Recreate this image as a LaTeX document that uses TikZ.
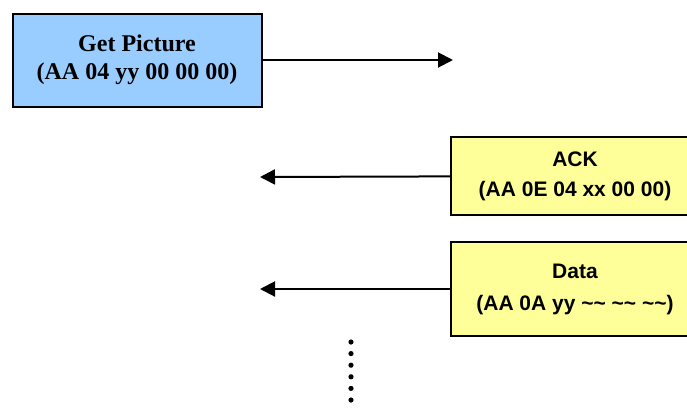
\documentclass[tikz,border=0pt]{standalone}
\usepackage{xcolor}
\usepackage{fontspec}
\setmainfont{Liberation Serif}
\usepackage{tikz}
\usetikzlibrary{arrows.meta,calc,positioning,shapes}
\newfontfamily\camfont{Liberation Sans}
\definecolor{hostblue}{HTML}{99CCFF}
\definecolor{camyellow}{HTML}{FFFF99}
\begin{document}
\begin{tikzpicture}[x=0.5pt,y=-0.5pt]
    \useasboundingbox (0,0) rectangle (687,408);
    % host command
    \node[rectangle,draw,line width=1pt,fill=hostblue,minimum width=124.5pt,minimum height=46.5pt,align=center,font=\rmfamily\bfseries\fontsize{12}{14}\selectfont] (get) at (137,60) {Get Picture\\(AA 04 yy 00 00 00)};
    % camera replies
    \node[rectangle,draw,line width=1pt,fill=camyellow,minimum width=124pt,minimum height=39pt,align=center,font=\camfont\bfseries\fontsize{10.5}{15}\selectfont] (ack) at (575,176) {ACK\\(AA 0E 04 xx 00 00)};
    \node[rectangle,draw,line width=1pt,fill=camyellow,minimum width=124pt,minimum height=47pt,align=center,font=\camfont\bfseries\fontsize{10.5}{16}\selectfont] (data) at (575,289) {Data\\(AA 0A yy \textasciitilde\textasciitilde{} \textasciitilde\textasciitilde{} \textasciitilde\textasciitilde)};
    % free arrow ends
    \coordinate (getend) at (453,60);
    \coordinate (ackend) at (260,177);
    \coordinate (dataend) at (260,289);
    % arrows
    \draw[line width=1pt,-{Triangle[length=7.5pt,width=7.5pt]}] (get) -- (getend);
    \draw[line width=1pt,-{Triangle[length=7.5pt,width=7.5pt]}] (ack) -- (ackend);
    \draw[line width=1pt,-{Triangle[length=7.5pt,width=7.5pt]}] (data) -- (dataend);
    % more to come
    \foreach \i in {0,...,5}
        \fill (351,342+11.6*\i) circle (1.3pt);
  \end{tikzpicture}
\end{document}
